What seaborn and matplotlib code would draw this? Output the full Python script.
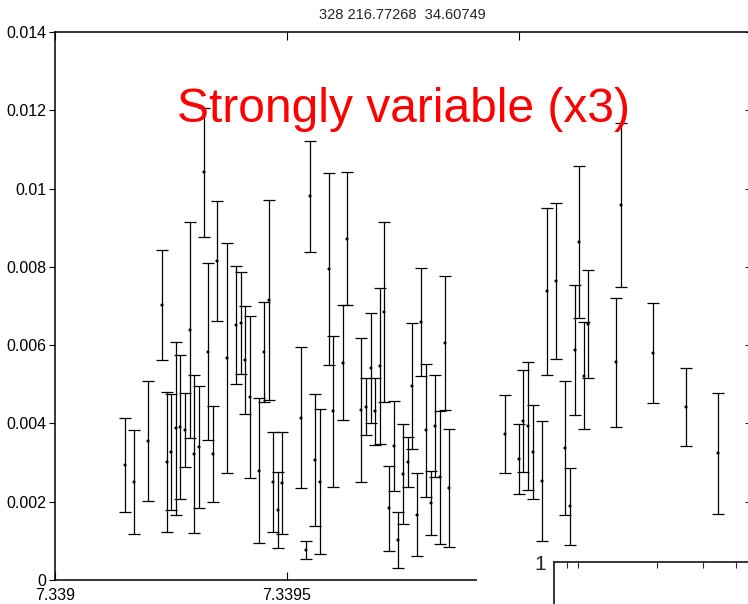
import matplotlib
matplotlib.use("Agg")
import matplotlib.pyplot as plt
import seaborn as sns
import numpy as np
import pandas as pd
from matplotlib.ticker import FuncFormatter

# ---------------- data ----------------
time = [7.3391509, 7.3391703, 7.3392004, 7.3392306, 7.3392414, 7.3392500, 7.3392608,
        7.3392694, 7.3392802, 7.3392910, 7.3392996, 7.3393103, 7.3393211, 7.3393297,
        7.3393405, 7.3393491, 7.3393707, 7.3393901, 7.3394009, 7.3394095, 7.3394203,
        7.3394397, 7.3394504, 7.3394612, 7.3394698, 7.3394806, 7.3394892,
        7.3395302, 7.3395409, 7.3395496, 7.3395603, 7.3395711, 7.3395905, 7.3395991,
        7.3396207, 7.3396293, 7.3396595, 7.3396703, 7.3396810, 7.3396897, 7.3397004,
        7.3397091, 7.3397198, 7.3397306, 7.3397392, 7.3397500, 7.3397608, 7.3397694,
        7.3397802, 7.3397888, 7.3397996, 7.3398103, 7.3398190, 7.3398297, 7.3398405,
        7.3398491,
        7.3399698, 7.3400000, 7.3400086, 7.3400194, 7.3400302, 7.3400496, 7.3400603,
        7.3400797, 7.3400991, 7.3401099, 7.3401207, 7.3401293, 7.3401401, 7.3401487,
        7.3402091, 7.3402198, 7.3402888, 7.3403599, 7.3404289]

flux = [0.002938, 0.002504, 0.003551, 0.007025, 0.003015, 0.003270, 0.003883,
        0.003909, 0.003832, 0.006387, 0.003219, 0.003398, 0.010423, 0.005825,
        0.003219, 0.008150, 0.005671, 0.006514, 0.006566, 0.005620, 0.004675,
        0.002785, 0.005825, 0.007153, 0.002504, 0.001788, 0.002478,
        0.004139, 0.000766, 0.009810, 0.003066, 0.002504, 0.007945, 0.004317,
        0.005544, 0.008712, 0.004343, 0.004420, 0.005416, 0.004317, 0.005467,
        0.006847, 0.001839, 0.003423, 0.001022, 0.002708, 0.003015, 0.004956,
        0.001661, 0.006591, 0.003832, 0.001967, 0.003934, 0.002631, 0.006055,
        0.002350,
        0.003730, 0.003091, 0.004062, 0.003934, 0.003270, 0.002529, 0.007383,
        0.007639, 0.003372, 0.001890, 0.005876, 0.008635, 0.005212, 0.006540,
        0.005569, 0.009580, 0.005799, 0.004420, 0.003244]

flux_err = [0.001201, 0.001328, 0.001533, 0.001405, 0.001776, 0.001482, 0.002210,
            0.001827, 0.000945, 0.002759, 0.002031, 0.001558, 0.001648, 0.002261,
            0.001226, 0.001533, 0.002938, 0.001507, 0.001303, 0.001380, 0.002057,
            0.001852, 0.001265, 0.002567, 0.001265, 0.000971, 0.001303,
            0.001801, 0.000230, 0.001418, 0.001686, 0.001852, 0.002453, 0.001929,
            0.001469, 0.001699, 0.001839, 0.000728, 0.001405, 0.000856, 0.002005,
            0.002299, 0.001086, 0.001150, 0.000715, 0.001277, 0.000639, 0.001622,
            0.001060, 0.001380, 0.001699, 0.000830, 0.001303, 0.001699, 0.001712,
            0.001507,
            0.000984, 0.000894, 0.001303, 0.001635, 0.001213, 0.001533, 0.002133,
            0.002005, 0.001712, 0.000984, 0.001673, 0.001954, 0.001367, 0.001392,
            0.001648, 0.002095, 0.001277, 0.000996, 0.001546]

x_ticks = [7.339, 7.3395, 7.340]
y_ticks = [0, 0.002, 0.004, 0.006, 0.008, 0.010, 0.012, 0.014]
title_text = "328 216.77268  34.60749"
note_text = "Strongly variable (x3)"
inset_label = "1"
inset_tick_px = [13, 24, 103, 149, 182]

df = pd.DataFrame({"time": time, "flux": flux, "err": flux_err})

# ---------------- style ----------------
sns.set_style("ticks")
plt.rcParams["font.family"] = ["Liberation Sans", "DejaVu Sans"]

W, H = 748, 604
fig = plt.figure(figsize=(W / 100, H / 100), dpi=100)

L, R, T, B = 55, 751, 32, 580
ax = fig.add_axes([L / W, 1 - B / H, (R - L) / W, (B - T) / H])

ax.errorbar(df["time"], df["flux"], yerr=df["err"], fmt="none", ecolor="black",
            elinewidth=0.9, capsize=4.5, capthick=0.9, zorder=2)
sns.scatterplot(data=df, x="time", y="flux", ax=ax, color="black", s=5,
                marker="o", edgecolor="none", zorder=3, legend=False)

ax.set_xlim(7.339, 7.3405)
ax.set_ylim(0, 0.014)
ax.set_xlabel("")
ax.set_ylabel("")
ax.set_xticks(x_ticks)
ax.set_yticks(y_ticks)
fmt = FuncFormatter(lambda v, p: "%g" % v)
ax.xaxis.set_major_formatter(fmt)
ax.yaxis.set_major_formatter(fmt)

for s in ax.spines.values():
    s.set_linewidth(1.1)
    s.set_color("black")

ax.tick_params(axis="x", which="both", direction="in", top=True, bottom=True,
               length=6, width=0.8, labelsize=11.5, pad=5.5, colors="black")
ax.tick_params(axis="y", which="both", direction="out", left=True, right=False,
               length=4, width=0.8, labelsize=11.5, pad=2, colors="black")

sec = ax.secondary_yaxis("right")
sec.set_yticks(y_ticks)
sec.tick_params(direction="in", length=4, width=0.8, labelright=False)
sec.spines["right"].set_linewidth(1.1)

ax.text(0.5, 0.835, note_text, transform=ax.transAxes, ha="center", va="baseline",
        color="red", fontsize=34.5)

fig.text(402 / W, 1 - 19 / H, title_text, ha="center", va="baseline", fontsize=10.5)

# white cover over the lower right corner
cx, cy = 477, 556
cover = fig.add_axes([cx / W, 0, 1 - cx / W + 0.01, (H - cy) / H])
cover.set_facecolor("white")
for s in cover.spines.values():
    s.set_visible(False)
cover.set_xticks([])
cover.set_yticks([])

# partial second panel
ix, iy = 554, 562
inset = fig.add_axes([ix / W, -0.05, (W + 10 - ix) / W, (H - iy) / H + 0.05])
inset.set_facecolor("white")
inset.set_xlim(0, W + 10 - ix)
inset.set_ylim(0, 1)
inset.spines["bottom"].set_visible(False)
inset.spines["right"].set_visible(False)
inset.spines["top"].set_linewidth(1.3)
inset.spines["left"].set_linewidth(1.3)
inset.set_xticks(inset_tick_px)
inset.tick_params(axis="x", direction="in", top=True, bottom=False, labeltop=False,
                  labelbottom=False, length=4, width=0.8)
inset.set_yticks([1])
inset.set_yticklabels([inset_label])
inset.tick_params(axis="y", length=0, pad=6, labelsize=15)

fig.savefig("out.png", dpi=100)
